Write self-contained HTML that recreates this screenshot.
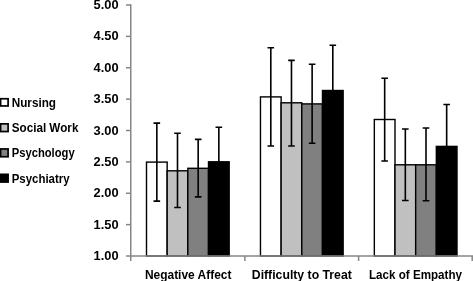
<!DOCTYPE html>
<html><head><meta charset="utf-8"><style>html,body{margin:0;padding:0;background:#fff;width:473px;height:281px;overflow:hidden}</style></head>
<body><svg width="473" height="281" viewBox="0 0 473 281" style="display:block;will-change:transform"><rect width="473" height="281" fill="#fff"/><rect x="146.50" y="162.10" width="20.67" height="93.90" fill="#FFFFFF" stroke="#000" stroke-width="1.4"/><rect x="167.17" y="170.80" width="20.67" height="85.20" fill="#C0C0C0" stroke="#000" stroke-width="1.4"/><rect x="187.83" y="168.30" width="20.67" height="87.70" fill="#808080" stroke="#000" stroke-width="1.4"/><rect x="208.50" y="161.80" width="20.67" height="94.20" fill="#000000" stroke="#000" stroke-width="1.4"/><rect x="260.47" y="96.90" width="20.67" height="159.10" fill="#FFFFFF" stroke="#000" stroke-width="1.4"/><rect x="281.13" y="102.80" width="20.67" height="153.20" fill="#C0C0C0" stroke="#000" stroke-width="1.4"/><rect x="301.80" y="103.90" width="20.67" height="152.10" fill="#808080" stroke="#000" stroke-width="1.4"/><rect x="322.47" y="90.50" width="20.67" height="165.50" fill="#000000" stroke="#000" stroke-width="1.4"/><rect x="374.33" y="119.50" width="20.67" height="136.50" fill="#FFFFFF" stroke="#000" stroke-width="1.4"/><rect x="395.00" y="164.80" width="20.67" height="91.20" fill="#C0C0C0" stroke="#000" stroke-width="1.4"/><rect x="415.67" y="164.80" width="20.67" height="91.20" fill="#808080" stroke="#000" stroke-width="1.4"/><rect x="436.33" y="146.40" width="20.67" height="109.60" fill="#000000" stroke="#000" stroke-width="1.4"/><line x1="130.75" y1="4.3" x2="130.75" y2="256.7" stroke="#868686" stroke-width="1.5"/><line x1="126" y1="5.00" x2="130.75" y2="5.00" stroke="#868686" stroke-width="1.5"/><line x1="126" y1="36.38" x2="130.75" y2="36.38" stroke="#868686" stroke-width="1.5"/><line x1="126" y1="67.75" x2="130.75" y2="67.75" stroke="#868686" stroke-width="1.5"/><line x1="126" y1="99.12" x2="130.75" y2="99.12" stroke="#868686" stroke-width="1.5"/><line x1="126" y1="130.50" x2="130.75" y2="130.50" stroke="#868686" stroke-width="1.5"/><line x1="126" y1="161.88" x2="130.75" y2="161.88" stroke="#868686" stroke-width="1.5"/><line x1="126" y1="193.25" x2="130.75" y2="193.25" stroke="#868686" stroke-width="1.5"/><line x1="126" y1="224.62" x2="130.75" y2="224.62" stroke="#868686" stroke-width="1.5"/><line x1="126" y1="256.00" x2="130.75" y2="256.00" stroke="#868686" stroke-width="1.5"/><line x1="130.75" y1="256.0" x2="473" y2="256.0" stroke="#868686" stroke-width="1.5"/><line x1="130.75" y1="256.0" x2="130.75" y2="261.0" stroke="#868686" stroke-width="1.5"/><line x1="244.90" y1="256.0" x2="244.90" y2="261.0" stroke="#868686" stroke-width="1.5"/><line x1="358.60" y1="256.0" x2="358.60" y2="261.0" stroke="#868686" stroke-width="1.5"/><line x1="472.20" y1="256.0" x2="472.20" y2="261.0" stroke="#868686" stroke-width="1.5"/><path d="M156.83 123.10V201.10M153.53 123.10H160.13M153.53 201.10H160.13" stroke="#000" stroke-width="1.6" fill="none"/><path d="M177.50 133.30V207.50M174.20 133.30H180.80M174.20 207.50H180.80" stroke="#000" stroke-width="1.6" fill="none"/><path d="M198.17 139.40V196.90M194.87 139.40H201.47M194.87 196.90H201.47" stroke="#000" stroke-width="1.6" fill="none"/><path d="M218.83 127.30V195.10M215.53 127.30H222.13M215.53 195.10H222.13" stroke="#000" stroke-width="1.6" fill="none"/><path d="M270.80 47.80V146.00M267.50 47.80H274.10M267.50 146.00H274.10" stroke="#000" stroke-width="1.6" fill="none"/><path d="M291.47 60.40V146.00M288.17 60.40H294.77M288.17 146.00H294.77" stroke="#000" stroke-width="1.6" fill="none"/><path d="M312.13 64.20V143.30M308.83 64.20H315.43M308.83 143.30H315.43" stroke="#000" stroke-width="1.6" fill="none"/><path d="M332.80 45.20V134.60M329.50 45.20H336.10M329.50 134.60H336.10" stroke="#000" stroke-width="1.6" fill="none"/><path d="M384.67 78.30V161.00M381.37 78.30H387.97M381.37 161.00H387.97" stroke="#000" stroke-width="1.6" fill="none"/><path d="M405.33 129.00V200.50M402.03 129.00H408.63M402.03 200.50H408.63" stroke="#000" stroke-width="1.6" fill="none"/><path d="M426.00 128.00V200.80M422.70 128.00H429.30M422.70 200.80H429.30" stroke="#000" stroke-width="1.6" fill="none"/><path d="M446.67 104.50V187.30M443.37 104.50H449.97M443.37 187.30H449.97" stroke="#000" stroke-width="1.6" fill="none"/><text x="118.6" y="9.20" font-family="Liberation Sans, sans-serif" font-weight="bold" font-size="13.5" text-anchor="end" textLength="25" lengthAdjust="spacingAndGlyphs">5.00</text><text x="118.6" y="40.48" font-family="Liberation Sans, sans-serif" font-weight="bold" font-size="13.5" text-anchor="end" textLength="25" lengthAdjust="spacingAndGlyphs">4.50</text><text x="118.6" y="71.85" font-family="Liberation Sans, sans-serif" font-weight="bold" font-size="13.5" text-anchor="end" textLength="25" lengthAdjust="spacingAndGlyphs">4.00</text><text x="118.6" y="103.22" font-family="Liberation Sans, sans-serif" font-weight="bold" font-size="13.5" text-anchor="end" textLength="25" lengthAdjust="spacingAndGlyphs">3.50</text><text x="118.6" y="134.60" font-family="Liberation Sans, sans-serif" font-weight="bold" font-size="13.5" text-anchor="end" textLength="25" lengthAdjust="spacingAndGlyphs">3.00</text><text x="118.6" y="165.97" font-family="Liberation Sans, sans-serif" font-weight="bold" font-size="13.5" text-anchor="end" textLength="25" lengthAdjust="spacingAndGlyphs">2.50</text><text x="118.6" y="197.35" font-family="Liberation Sans, sans-serif" font-weight="bold" font-size="13.5" text-anchor="end" textLength="25" lengthAdjust="spacingAndGlyphs">2.00</text><text x="118.6" y="228.72" font-family="Liberation Sans, sans-serif" font-weight="bold" font-size="13.5" text-anchor="end" textLength="25" lengthAdjust="spacingAndGlyphs">1.50</text><text x="118.6" y="260.10" font-family="Liberation Sans, sans-serif" font-weight="bold" font-size="13.5" text-anchor="end" textLength="25" lengthAdjust="spacingAndGlyphs">1.00</text><text x="144.9" y="278.6" font-family="Liberation Sans, sans-serif" font-weight="bold" font-size="13.6" textLength="86.6" lengthAdjust="spacingAndGlyphs">Negative Affect</text><text x="251.8" y="278.6" font-family="Liberation Sans, sans-serif" font-weight="bold" font-size="13.6" textLength="100" lengthAdjust="spacingAndGlyphs">Difficulty to Treat</text><text x="369.0" y="278.6" font-family="Liberation Sans, sans-serif" font-weight="bold" font-size="13.6" textLength="93" lengthAdjust="spacingAndGlyphs">Lack of Empathy</text><rect x="0.6" y="98.75" width="7.5" height="7.20" fill="#fff" stroke="#000" stroke-width="1.7"/><text x="11.7" y="106.8" font-family="Liberation Sans, sans-serif" font-weight="bold" font-size="13.6" textLength="44.3" lengthAdjust="spacingAndGlyphs">Nursing</text><rect x="0.6" y="123.85" width="7.5" height="7.70" fill="#C0C0C0" stroke="#000" stroke-width="1.7"/><text x="11.7" y="131.5" font-family="Liberation Sans, sans-serif" font-weight="bold" font-size="13.6" textLength="66.7" lengthAdjust="spacingAndGlyphs">Social Work</text><rect x="0.6" y="148.95" width="7.5" height="7.80" fill="#808080" stroke="#000" stroke-width="1.7"/><text x="11.7" y="157.2" font-family="Liberation Sans, sans-serif" font-weight="bold" font-size="13.6" textLength="63" lengthAdjust="spacingAndGlyphs">Psychology</text><rect x="0.6" y="174.35" width="7.5" height="7.70" fill="#000" stroke="#000" stroke-width="1.7"/><text x="11.7" y="182.5" font-family="Liberation Sans, sans-serif" font-weight="bold" font-size="13.6" textLength="57.9" lengthAdjust="spacingAndGlyphs">Psychiatry</text></svg></body></html>
